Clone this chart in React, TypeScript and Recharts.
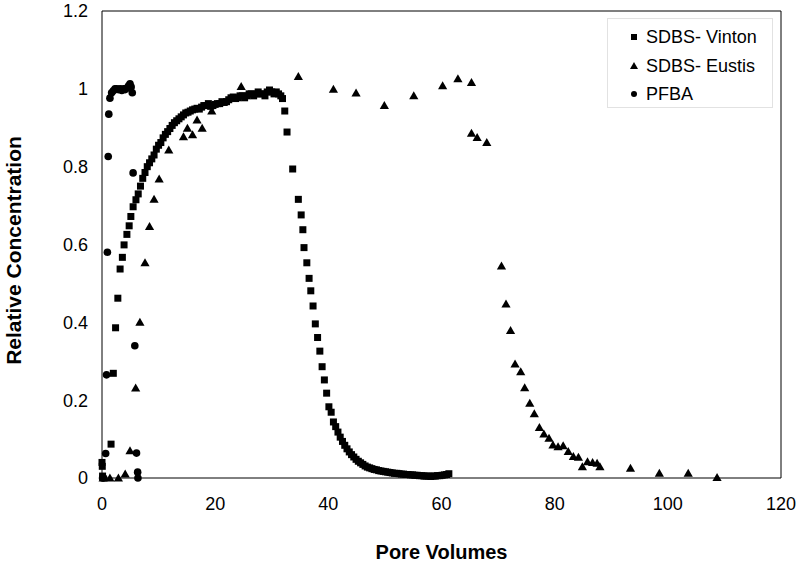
import React from "react";
import { ScatterChart, Scatter, XAxis, YAxis, ReferenceLine } from "recharts";

// [pore volumes, relative concentration]
const vinton: [number, number][] = [
  [0, 0.04], [0.05, 0.03], [0.1, 0.005],
  [1.6, 0.087], [2.0, 0.269], [2.4, 0.386], [2.8, 0.462], [3.2, 0.537], [3.6, 0.567],
  [3.9, 0.599], [4.4, 0.626], [4.8, 0.648], [5.1, 0.672], [5.5, 0.697],
  [6.0, 0.715], [6.4, 0.73], [6.8, 0.75], [7.2, 0.77], [7.6, 0.785], [8.0, 0.8],
  [8.4, 0.81], [8.8, 0.82], [9.2, 0.83], [9.6, 0.845], [10.0, 0.855], [10.4, 0.862],
  [10.8, 0.874], [11.2, 0.883], [11.6, 0.89], [12.0, 0.898], [12.4, 0.906], [12.8, 0.913],
  [13.2, 0.918], [13.6, 0.923], [14.0, 0.928], [14.4, 0.933], [14.8, 0.938], [15.2, 0.94],
  [15.6, 0.943], [16.0, 0.946], [16.4, 0.948], [16.8, 0.95], [17.2, 0.948], [17.6, 0.953],
  [18.0, 0.957], [18.4, 0.957], [18.8, 0.962], [19.2, 0.955], [19.6, 0.957], [20.0, 0.96],
  [20.4, 0.962], [20.8, 0.962], [21.2, 0.967], [21.6, 0.965], [22.0, 0.967], [22.4, 0.972],
  [22.8, 0.977], [23.2, 0.979], [23.6, 0.975], [24.0, 0.977], [24.4, 0.982], [24.8, 0.982],
  [25.2, 0.977], [25.6, 0.982], [26.0, 0.987], [26.4, 0.987], [26.8, 0.982], [27.2, 0.987],
  [27.6, 0.992], [28.0, 0.987], [28.4, 0.987], [28.8, 0.982], [29.2, 0.992], [29.6, 0.997],
  [30.0, 0.992], [30.4, 0.987], [30.8, 0.992], [31.2, 0.987], [31.6, 0.982], [31.9, 0.975],
  [32.3, 0.943], [32.7, 0.889], [33.7, 0.794], [34.7, 0.716], [35.2, 0.676], [35.5, 0.638],
  [35.7, 0.592], [36.2, 0.553], [36.6, 0.513], [36.9, 0.481], [37.3, 0.442], [37.7, 0.396],
  [38.1, 0.361], [38.5, 0.326], [38.9, 0.286], [39.3, 0.252], [39.7, 0.218], [40.1, 0.183],
  [40.5, 0.169], [40.9, 0.144], [41.3, 0.132], [41.7, 0.118], [42.1, 0.105], [42.5, 0.094],
  [42.9, 0.084], [43.3, 0.075], [43.7, 0.067], [44.1, 0.06], [44.5, 0.054], [44.9, 0.048],
  [45.3, 0.043], [45.7, 0.039], [46.1, 0.035], [46.5, 0.031], [46.9, 0.028], [47.3, 0.026],
  [47.7, 0.024], [48.1, 0.022], [48.5, 0.021], [48.9, 0.019], [49.3, 0.018], [49.7, 0.017],
  [50.1, 0.016], [50.5, 0.015], [50.9, 0.014], [51.3, 0.013], [51.7, 0.012], [52.1, 0.012],
  [52.5, 0.011], [52.9, 0.01], [53.3, 0.01], [53.7, 0.009], [54.1, 0.009], [54.5, 0.008],
  [54.9, 0.008], [55.3, 0.007], [55.7, 0.007], [56.1, 0.006], [56.5, 0.006], [56.9, 0.005],
  [57.3, 0.005], [57.7, 0.005], [58.1, 0.004], [58.5, 0.005], [58.9, 0.005], [59.3, 0.006],
  [59.7, 0.006], [60.1, 0.007], [60.5, 0.008], [60.9, 0.009], [61.3, 0.011],
];

const eustis: [number, number][] = [
  [0.2, 0], [1.4, 0], [2.9, 0], [4.1, 0.01], [4.95, 0.07], [5.95, 0.231], [6.7, 0.4],
  [7.6, 0.553], [8.4, 0.646], [9.2, 0.716], [10.1, 0.768], [11.8, 0.843], [14.4, 0.877],
  [15.1, 0.899], [16.0, 0.882], [16.8, 0.92], [17.7, 0.899], [19.4, 0.943], [24.6, 1.006],
  [34.7, 1.032], [40.9, 0.999], [44.9, 0.989], [49.9, 0.957], [55.1, 0.982], [60.2, 1.008],
  [62.9, 1.026], [65.3, 1.016], [65.3, 0.886], [66.3, 0.875], [68.0, 0.862], [70.6, 0.545],
  [71.4, 0.447], [72.2, 0.379], [73.0, 0.293], [74.0, 0.273], [74.7, 0.232], [75.6, 0.192],
  [76.4, 0.165], [77.3, 0.13], [78.1, 0.113], [79.0, 0.102], [79.7, 0.085], [80.6, 0.08],
  [81.5, 0.083], [82.4, 0.068], [83.3, 0.055], [84.2, 0.053], [84.9, 0.029], [85.8, 0.042],
  [86.7, 0.04], [87.5, 0.038], [88.0, 0.029], [93.4, 0.025], [98.5, 0.012], [103.6, 0.012],
  [108.7, 0.001],
];

const pfba: [number, number][] = [
  [0.1, 0], [0.3, 0], [0.65, 0.063], [0.8, 0.265], [0.95, 0.58], [1.1, 0.826], [1.2, 0.935],
  [1.4, 0.976], [1.7, 0.99], [2.0, 0.995], [2.3, 1.0], [2.6, 1.0], [2.9, 0.998], [3.2, 1.0],
  [3.5, 0.996], [3.8, 1.0], [4.1, 0.998], [4.4, 1.002], [4.7, 1.008], [4.95, 1.013],
  [5.15, 1.005], [5.35, 0.99], [5.5, 0.784], [5.8, 0.34], [6.1, 0.064], [6.3, 0.015], [6.35, 0],
];

const xTicks = [0, 20, 40, 60, 80, 100, 120];
const yTicks = [0, 0.2, 0.4, 0.6, 0.8, 1, 1.2];

const font = "'Liberation Sans', Arial, sans-serif";
const toPoints = (rows: [number, number][]) => rows.map(([pv, c]) => ({ pv, c }));

const SquareDot = (p: any) => (
  <rect x={p.cx - 3.5} y={p.cy - 3.5} width={7} height={7} fill="#000" />
);
const TriangleDot = (p: any) => (
  <polygon
    points={`${p.cx},${p.cy - 4.5} ${p.cx - 4.6},${p.cy + 3.5} ${p.cx + 4.6},${p.cy + 3.5}`}
    fill="#000"
  />
);
const CircleDot = (p: any) => <circle cx={p.cx} cy={p.cy} r={3.8} fill="#000" />;

const legendRows = [
  { name: "SDBS- Vinton", icon: <rect x={2} y={2} width={6} height={6} fill="#000" /> },
  { name: "SDBS- Eustis", icon: <polygon points="5,1 1,8 9,8" fill="#000" /> },
  { name: "PFBA", icon: <circle cx={5} cy={5} r={3} fill="#000" /> },
];

export default function App() {
  return (
    <div
      style={{
        position: "absolute",
        left: 0,
        top: 0,
        width: 800,
        height: 564,
        background: "#fff",
        fontFamily: font,
      }}
    >
      <ScatterChart width={800} height={564} margin={{ top: 11, right: 19, bottom: 46, left: 0 }}>
        <XAxis
          type="number"
          dataKey="pv"
          domain={[0, 120]}
          ticks={xTicks}
          tickLine={false}
          tickSize={0}
          tickMargin={19}
          height={40}
          stroke="#000"
          tick={{ fill: "#000", fontSize: 18, fontFamily: font }}
        />
        <YAxis
          type="number"
          dataKey="c"
          domain={[0, 1.2]}
          ticks={yTicks}
          tickLine={false}
          tickSize={0}
          tickMargin={14}
          width={102}
          stroke="#000"
          tick={{ fill: "#000", fontSize: 18, fontFamily: font }}
        />
        {/* plot-area frame, top and right */}
        <ReferenceLine y={1.2} stroke="#000" strokeWidth={1} />
        <ReferenceLine x={120} stroke="#000" strokeWidth={1} />
        <Scatter name="SDBS- Vinton" data={toPoints(vinton)} shape={SquareDot} isAnimationActive={false} />
        <Scatter name="SDBS- Eustis" data={toPoints(eustis)} shape={TriangleDot} isAnimationActive={false} />
        <Scatter name="PFBA" data={toPoints(pfba)} shape={CircleDot} isAnimationActive={false} />
      </ScatterChart>

      <div
        style={{
          position: "absolute",
          left: 607,
          top: 18,
          width: 166,
          height: 90,
          boxSizing: "border-box",
          border: "1px solid #e2e2e2",
          background: "#fff",
          paddingTop: 4,
        }}
      >
        {legendRows.map((row) => (
          <div key={row.name} style={{ display: "flex", alignItems: "center", height: 28.5 }}>
            <svg width={10} height={10} style={{ marginLeft: 21, marginRight: 7 }}>
              {row.icon}
            </svg>
            <span style={{ fontSize: 18, color: "#000", lineHeight: "20px" }}>{row.name}</span>
          </div>
        ))}
      </div>

      <div
        style={{
          position: "absolute",
          left: 0,
          top: 542,
          width: 883,
          textAlign: "center",
          fontSize: 20,
          lineHeight: "20px",
          fontWeight: "bold",
          color: "#000",
        }}
      >
        Pore Volumes
      </div>
      <div
        style={{
          position: "absolute",
          left: -137.5,
          top: 239.5,
          width: 300,
          height: 21,
          textAlign: "center",
          fontSize: 21,
          lineHeight: "21px",
          fontWeight: "bold",
          color: "#000",
          transform: "rotate(-90deg)",
        }}
      >
        Relative Concentration
      </div>
    </div>
  );
}
